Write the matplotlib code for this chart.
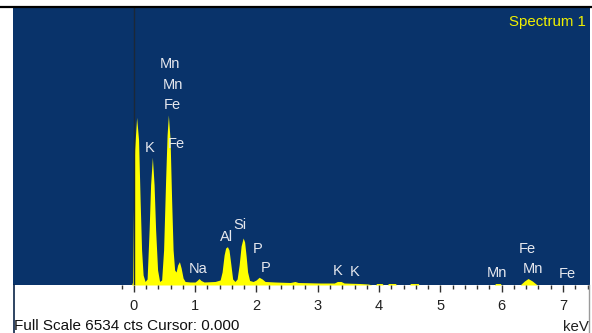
import numpy as np
import matplotlib.pyplot as plt
from matplotlib.lines import Line2D

plt.rcParams['font.family'] = ['Liberation Sans', 'DejaVu Sans']

full_scale = 6534  # cts

# EDS spectrum outline (keV, counts)
energy = [-0.036, -0.02, -0.003, 0.013, 0.046, 0.078, 0.103, 0.127, 0.152, 0.184,
          0.217, 0.25, 0.274, 0.303, 0.331, 0.356, 0.388, 0.421,
          0.454, 0.486, 0.519, 0.543, 0.564, 0.592, 0.617, 0.641, 0.666,
          0.69, 0.715, 0.744, 0.772, 0.804, 0.837, 0.92, 1.0,
          1.03, 1.065, 1.097, 1.147, 1.326, 1.408, 1.44, 1.473, 1.498, 1.527,
          1.553, 1.578, 1.612, 1.65, 1.685, 1.718, 1.75, 1.783, 1.807, 1.832,
          1.856, 1.889, 1.946, 1.995, 2.044, 2.093, 2.142, 2.305, 2.55, 2.63,
          2.68, 3.04, 3.27, 3.32, 3.38, 3.43, 3.69, 3.82, 3.89,
          3.94, 3.96, 4.05, 4.07, 4.14, 4.15, 4.27, 4.28, 4.50, 4.51, 4.64, 4.65,
          5.88, 5.90, 5.98, 5.99, 6.30, 6.37, 6.43, 6.50, 6.58, 7.44]
counts = [0, 71, 2006, 3186, 3953, 3422, 2006, 826, 236, 83,
          142, 1298, 2360, 3014, 2360, 1298, 354, 83,
          118, 826, 2478, 3540, 4012, 3422, 2006, 826, 354,
          307, 472, 550, 401, 165, 83, 71, 71,
          106, 153, 106, 71, 83, 118, 307, 708, 873, 904,
          826, 543, 142, 83, 142, 472, 920, 1109, 1015, 684,
          307, 106, 83, 118, 182, 142, 83, 71, 59, 83,
          59, 47, 47, 83, 83, 47, 35, 24, 0,
          0, 35, 35, 0, 0, 35, 35, 0, 0, 35, 35, 0,
          0, 35, 35, 0, 0, 94, 153, 94, 0, 0]

# line labels: text, keV, counts
label_text = ['Mn', 'Mn', 'Fe', 'K', 'Fe', 'Na', 'Al', 'Si', 'P', 'P',
              'K', 'K', 'Mn', 'Fe', 'Mn', 'Fe']
label_kev = [0.592, 0.636, 0.636, 0.266, 0.701, 1.054, 1.517, 1.734, 2.023, 2.142,
             3.316, 3.594, 5.92, 6.42, 6.51, 7.07]
label_cts = [5216, 4720, 4248, 3226, 3320, 371, 1140, 1416, 843, 394,
             330, 307, 276, 843, 371, 260]

W, H = 592, 333
fig = plt.figure(figsize=(W / 100, H / 100), dpi=100)
fig.patch.set_facecolor('white')


def px(x, y):
    return x / W, 1 - y / H


ax = fig.add_axes([13 / W, 1 - 285 / H, 577 / W, 277 / H])
ax.set_facecolor('#09336a')
ax.set_xlim(-1.97, 7.44)
ax.set_ylim(0, full_scale)

ax.fill_between(energy, 0, counts, color='#ffff00', lw=0)
ax.axvline(0, color='#1b2838', lw=1)

for t, xk, yc in zip(label_text, label_kev, label_cts):
    ax.text(xk, yc, t, color='#e6e8ee', fontsize=10.5, ha='center', va='center')

ax.set_xticks(range(0, 8))
ax.set_xticks(np.arange(-0.2, 7.41, 0.2), minor=True)
ax.set_yticks([])
ax.tick_params(axis='x', which='major', direction='out', length=5, width=1,
               color='#303030', labelsize=10.5, labelcolor='#202020', pad=5)
ax.tick_params(axis='x', which='minor', direction='out', length=3, width=1,
               color='#303030')
for s in ax.spines.values():
    s.set_visible(False)

ax.text(0.992, 0.975, 'Spectrum 1', transform=ax.transAxes, color='#f0f000',
        fontsize=10.8, ha='right', va='top')

# frame around the energy scale strip and the top rule
fig.add_artist(Line2D([px(13.5, 0)[0]] * 2, [px(0, 285)[1], 0],
                      color='#0b2448', lw=1.2))
fig.add_artist(Line2D([px(589, 0)[0]] * 2, [px(0, 285)[1], 0],
                      color='#9a9a9a', lw=1))
fig.add_artist(Line2D([0, 1], [px(0, 6.5)[1]] * 2, color='black', lw=1.6))

fig.text(*px(14, 326), 'Full Scale 6534 cts Cursor: 0.000', fontsize=11,
         color='#101010', ha='left', va='center')
fig.text(*px(589, 327), 'keV', fontsize=10.8, color='#202020',
         ha='right', va='center')

fig.savefig('out.png', dpi=100)
